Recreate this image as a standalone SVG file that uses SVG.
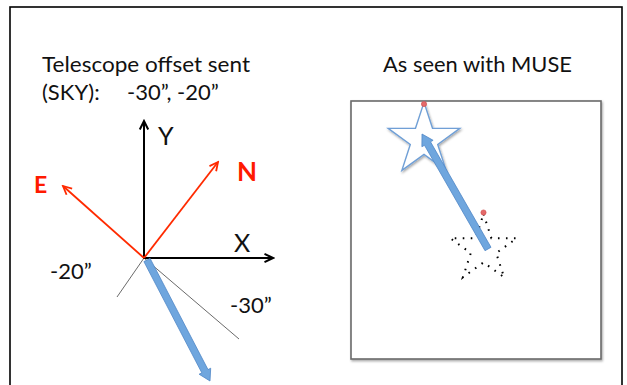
<svg xmlns="http://www.w3.org/2000/svg" width="627" height="385" viewBox="0 0 627 385">
  <style>
    .t { font-family: Lato, "Open Sans", "Liberation Sans", sans-serif; font-size: 22px; fill: #111; }
    .ax { font-family: Lato, "Open Sans", "Liberation Sans", sans-serif; font-size: 25px; fill: #111; }
    .red { font-family: Lato, "Open Sans", "Liberation Sans", sans-serif; font-weight: bold; fill: #ff1a00; }
    .axis { stroke: #000; stroke-width: 2; fill: none; }
    .raxis { stroke: #ff2a00; stroke-width: 1.8; fill: none; }
    .thin { stroke: #444; stroke-width: 0.8; fill: none; }
    .blue { fill: #6fa6de; stroke: #4f86c6; stroke-width: 0.8; stroke-linejoin: round; }
    .dot { fill: #e46a6a; stroke: #d04848; stroke-width: 0.6; }
  </style>
  <defs>
    <marker id="hk" markerUnits="userSpaceOnUse" markerWidth="12" markerHeight="12" viewBox="0 0 12 12" refX="10" refY="6" orient="auto">
      <path d="M1.5,1.8 L10,6 L1.5,10.2" fill="none" stroke="#000" stroke-width="2"/>
    </marker>
    <marker id="hr" markerUnits="userSpaceOnUse" markerWidth="12" markerHeight="12" viewBox="0 0 12 12" refX="10" refY="6" orient="auto">
      <path d="M1.5,1.8 L10,6 L1.5,10.2" fill="none" stroke="#ff2a00" stroke-width="1.8"/>
    </marker>
    <filter id="sh" x="-10%" y="-10%" width="125%" height="125%">
      <feDropShadow dx="1" dy="1.5" stdDeviation="1.2" flood-color="#000" flood-opacity="0.35"/>
    </filter>
  </defs>

  <rect id="frame" x="10" y="7" width="612" height="400" fill="#fff" stroke="#000" stroke-width="1.6"/>

  <g id="title-left">
    <text class="t" x="42" y="72" textLength="208" lengthAdjust="spacingAndGlyphs">Telescope offset sent</text>
    <text class="t" x="42" y="100">(SKY):</text>
    <text class="t" x="127" y="100">-30”, -20”</text>
  </g>

  <g id="title-right">
    <text class="t" x="383" y="72" textLength="189" lengthAdjust="spacingAndGlyphs">As seen with MUSE</text>
  </g>

  <g id="connectors">
    <line class="thin" x1="144" y1="258" x2="117" y2="297"/>
    <line class="thin" x1="144" y1="258" x2="239" y2="339"/>
    <line class="axis" x1="144" y1="258" x2="144" y2="121" marker-end="url(#hk)"/>
    <line class="axis" x1="143" y1="258" x2="273" y2="258" marker-end="url(#hk)"/>
    <line class="raxis" x1="144" y1="258" x2="218" y2="162" marker-end="url(#hr)"/>
    <line class="raxis" x1="144" y1="258" x2="63" y2="186" marker-end="url(#hr)"/>
    <polygon class="blue" points="143.9,261.6 201.8,372.8 199.1,374.2 210,381 210.7,368.2 208,369.6 150.1,258.4"/>
  </g>

  <g id="axis-labels">
    <text class="ax" x="158" y="145">Y</text>
    <text class="ax" x="234" y="252">X</text>
    <text class="red" x="237" y="181" font-size="26">N</text>
    <text class="red" x="34" y="193" font-size="23">E</text>
    <text class="t" x="50" y="279">-20”</text>
    <text class="t" x="230" y="313">-30”</text>
  </g>

  <g id="muse-field">
    <rect x="351" y="101" width="250" height="258" fill="#fff" stroke="#6a6a6a" stroke-width="1.6" filter="url(#sh)"/>
  </g>

  <g id="target-star">
    <polygon points="424,102.4 432.5,128.3 459.8,128.4 437.7,144.4 446.1,170.4 424,154.4 401.9,170.4 410.3,144.4 388.2,128.4 415.5,128.3" fill="#fff" stroke="#6f9fd6" stroke-width="1.4" stroke-linejoin="miter" filter="url(#sh)"/>
    <circle class="dot" cx="424" cy="104" r="2.6"/>
  </g>

  <g id="original-star">
    <polygon points="483.5,214 491.4,238.2 516.8,238.2 496.2,253.1 504.1,277.3 483.5,262.4 462.9,277.3 470.8,253.1 450.2,238.2 475.6,238.2" fill="none" stroke="#000" stroke-width="2" stroke-dasharray="1.6 6.4"/>
    <circle class="dot" cx="483.5" cy="212.5" r="2.6"/>
  </g>

  <g id="offset-arrow">
    <polygon class="blue" points="491,247.3 430.5,141.8 433.1,140.3 422,134 421.9,146.7 424.5,145.3 485,250.7"/>
  </g>
</svg>
